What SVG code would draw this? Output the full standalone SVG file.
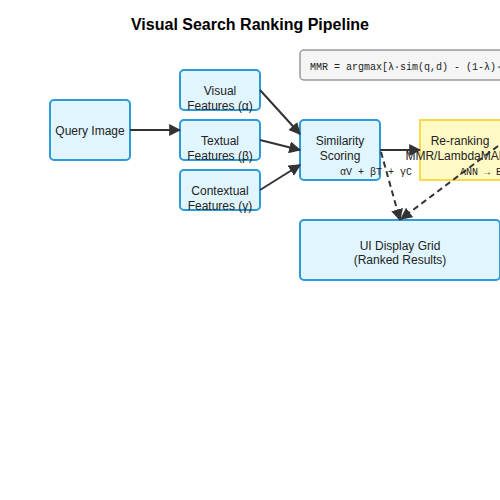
<svg xmlns="http://www.w3.org/2000/svg" width="500" height="500" viewBox="0 0 500 500">
<defs>
<marker id="arr" viewBox="0 0 10 10" refX="9" refY="5" markerWidth="6" markerHeight="6" orient="auto" markerUnits="strokeWidth">
<path d="M0,0 L10,5 L0,10 z" fill="#333"/>
</marker>
<style>
.node{fill:#e1f5fe;stroke:#2d9bd8;stroke-width:2}
.rerank{fill:#fff9c4;stroke:#fbd84a;stroke-width:2}
.formula{fill:#f5f5f5;stroke:#999;stroke-width:1.5}
.lbl{font-family:"Liberation Sans",Arial,sans-serif;font-size:12px;fill:#222;text-anchor:middle}
.mono{font-family:"Liberation Mono","DejaVu Sans Mono",monospace;font-size:10px;fill:#222}
.title{font-family:"Liberation Sans",Arial,sans-serif;font-size:16px;font-weight:bold;fill:#000;text-anchor:middle}
.edge{stroke:#333;stroke-width:2;fill:none}
.dash{stroke:#333;stroke-width:2;fill:none;stroke-dasharray:6,4}
</style>
</defs>
<rect width="500" height="500" fill="#fff"/>
<text class="title" x="250" y="30">Visual Search Ranking Pipeline</text>

<g id="formula-box">
<rect class="formula" x="300" y="50" width="220" height="30" rx="4"/>
<text class="mono" x="310" y="70">MMR = argmax[λ·sim(q,d) - (1-λ)·max sim(d,d')]</text>
</g>

<g id="query-image">
<rect class="node" x="50" y="100" width="80" height="60" rx="4"/>
<text class="lbl" x="90" y="135">Query Image</text>
</g>

<g id="visual-features">
<rect class="node" x="180" y="70" width="80" height="40" rx="4"/>
<text class="lbl" x="220" y="95">Visual</text>
<text class="lbl" x="220" y="110">Features (α)</text>
</g>

<g id="textual-features">
<rect class="node" x="180" y="120" width="80" height="40" rx="4"/>
<text class="lbl" x="220" y="145">Textual</text>
<text class="lbl" x="220" y="160">Features (β)</text>
</g>

<g id="contextual-features">
<rect class="node" x="180" y="170" width="80" height="40" rx="4"/>
<text class="lbl" x="220" y="195">Contextual</text>
<text class="lbl" x="220" y="210">Features (γ)</text>
</g>

<g id="similarity-scoring">
<rect class="node" x="300" y="120" width="80" height="60" rx="4"/>
<text class="lbl" x="340" y="145">Similarity</text>
<text class="lbl" x="340" y="160">Scoring</text>
<text class="mono" x="340" y="175">αV + βT + γC</text>
</g>

<g id="re-ranking">
<rect class="rerank" x="420" y="120" width="100" height="60" rx="0"/>
<text class="lbl" x="460" y="145">Re-ranking</text>
<text class="lbl" x="460" y="160">MMR/LambdaMART</text>
<text class="mono" x="460" y="175">ANN → Exact</text>
</g>

<g id="ui-display">
<rect class="node" x="300" y="220" width="200" height="60" rx="4"/>
<text class="lbl" x="400" y="250">UI Display Grid</text>
<text class="lbl" x="400" y="264">(Ranked Results)</text>
</g>

<g id="connectors">
<line class="edge" x1="130" y1="130" x2="180" y2="130" marker-end="url(#arr)"/>
<line class="edge" x1="260" y1="90" x2="300" y2="134" marker-end="url(#arr)"/>
<line class="edge" x1="260" y1="140" x2="300" y2="150" marker-end="url(#arr)"/>
<line class="edge" x1="260" y1="190" x2="300" y2="165" marker-end="url(#arr)"/>
<line class="edge" x1="380" y1="150" x2="420" y2="150" marker-end="url(#arr)"/>
<line class="dash" x1="381" y1="152" x2="400" y2="220" marker-end="url(#arr)"/>
<line class="dash" x1="530" y1="122" x2="401" y2="219" marker-end="url(#arr)"/>
</g>
</svg>
